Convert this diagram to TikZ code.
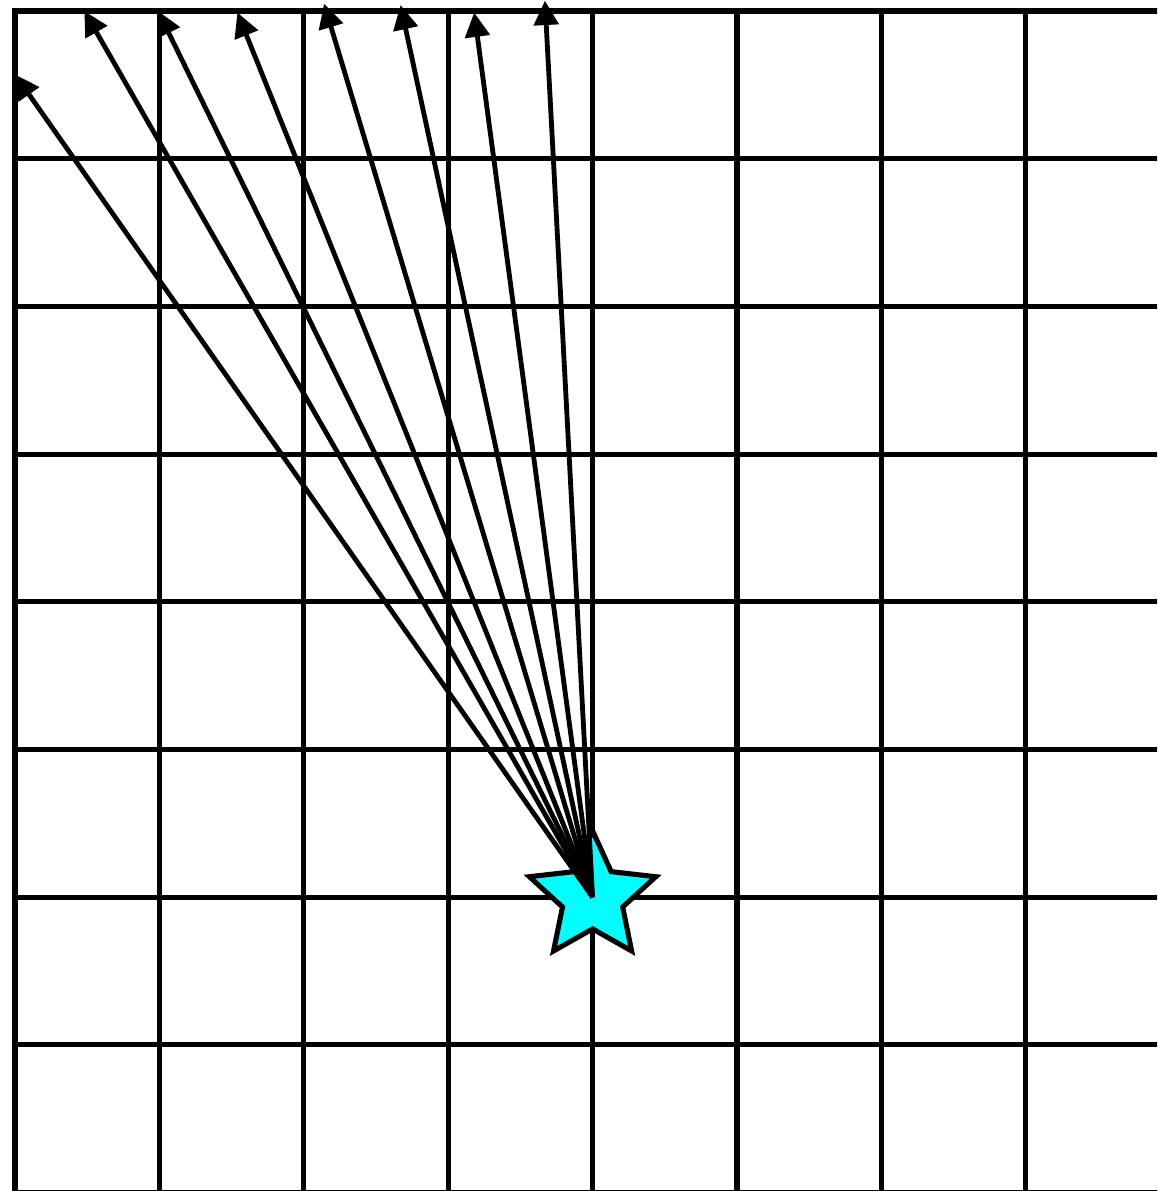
\documentclass[tikz,border=0pt]{standalone}
\usepackage{xcolor}
\usepackage{tikz}
\usetikzlibrary{arrows.meta,shapes.geometric}

\definecolor{starcyan}{RGB}{0,255,255}

\begin{document}
\begin{tikzpicture}[
    x=1cm, y=1.0229cm,
    gridline/.style={draw=black,line width=1pt,line cap=rect},
    source/.style  ={star,star points=5,star point ratio=2.1,
                     draw=black,fill=starcyan,line width=1pt,
                     minimum size=0.92cm,inner sep=0pt},
    arr/.style={-{Triangle[length=4.8pt,width=4.8pt]},black,line width=0.95pt},
  ]
  % Frame: fixed size, grid cut at right and bottom
  \useasboundingbox (-0.104,0.0745) rectangle (7.909,-7.989);
  \clip (-0.104,0.0745) rectangle (7.909,-7.989);

  % Grid
  \foreach \i in {0,...,7}
    \draw[gridline] (\i,0) -- (\i,-8.2);
  \foreach \j in {0,...,8}
    \draw[gridline] (0,-\j) -- (8.2,-\j);

  % Source star
  \node[source] (S) at (4,-6) {};

  % Arrow ends
  \coordinate (T1) at (0,-0.43);
  \coordinate (T2) at (0.48,0);
  \coordinate (T3) at (0.99,0);
  \coordinate (T4) at (1.54,-0.01);
  \coordinate (T5) at (2.14,0.05);
  \coordinate (T6) at (2.67,0.04);
  \coordinate (T7) at (3.18,-0.01);
  \coordinate (T8) at (3.67,0.07);

  % Fan of arrows from the star
  \draw[arr] (S.center) -- (T1);
  \draw[arr] (S.center) -- (T2);
  \draw[arr] (S.center) -- (T3);
  \draw[arr] (S.center) -- (T4);
  \draw[arr] (S.center) -- (T5);
  \draw[arr] (S.center) -- (T6);
  \draw[arr] (S.center) -- (T7);
  \draw[arr] (S.center) -- (T8);
\end{tikzpicture}
\end{document}
